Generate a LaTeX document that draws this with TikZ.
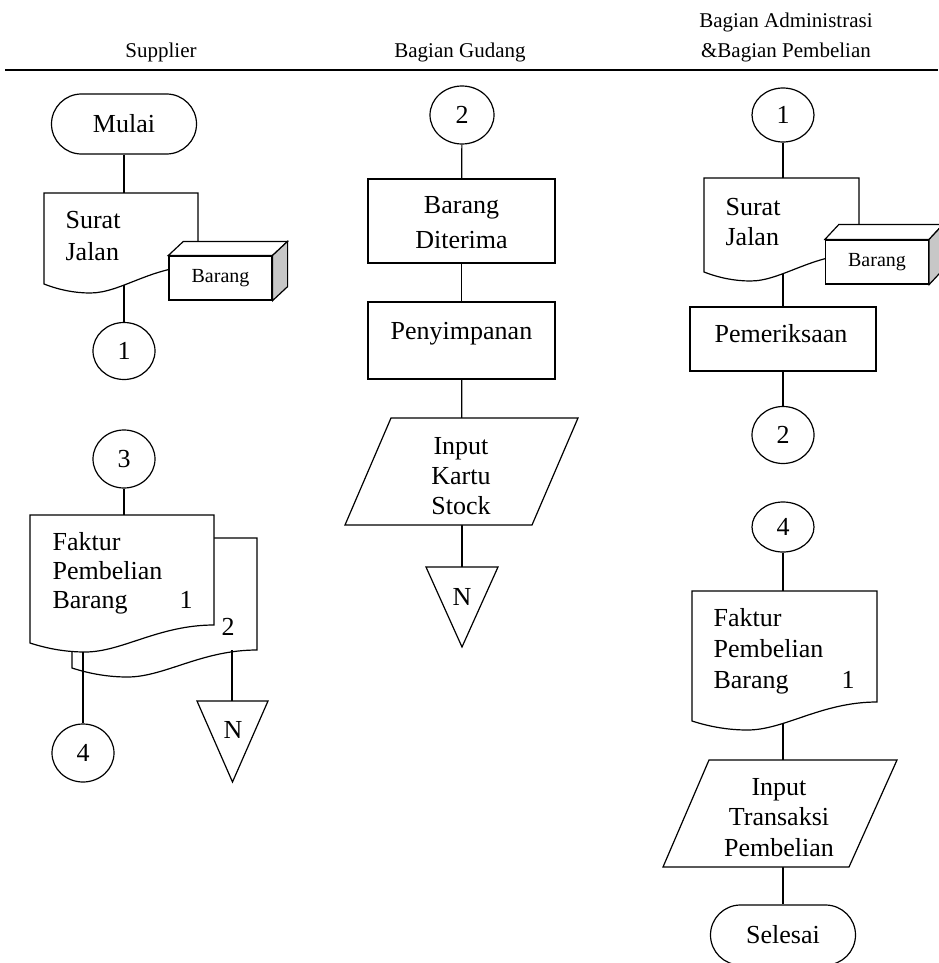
\documentclass[tikz,border=0pt]{standalone}
\usepackage{fontspec}
\setmainfont{Liberation Serif}
\usetikzlibrary{shapes.geometric}
\pgfdeclarelayer{lines}
\pgfsetlayers{lines,main}

% document symbol with a wavy lower edge: [options]{left}{top}{right}{bottom left}{bottom right}
\newcommand{\wavedoc}[6][]{%
  \path[draw, #1] (#2,#3) -- (#4,#3) -- (#4,#6)
    .. controls ({#2+0.7*(#4-#2)},#6) and ({#2+0.5*(#4-#2)},{#5+9}) .. ({#2+0.3*(#4-#2)},{#5+9})
    .. controls ({#2+0.2*(#4-#2)},{#5+9}) and ({#2+0.1*(#4-#2)},{#5+6}) .. (#2,#5) -- cycle;}

% top and side faces of a crate drawn on a front node: {node}{dx}{dy}
\newcommand{\cratefaces}[3]{%
  \path[draw, fill=white] (#1.north west) -- ++(#2,-#3) -- ([shift={(#2,-#3)}]#1.north east) -- (#1.north east) -- cycle;
  \path[draw, fill=black!22] (#1.north east) -- ++(#2,-#3) -- ([shift={(#2,-#3)}]#1.south east) -- (#1.south east) -- cycle;}

\begin{document}
\begin{tikzpicture}[x=1pt, y=-1pt, line width=1.2pt, line join=miter,
  fcbody/.style={font=\fontsize{26}{30}\selectfont, inner sep=0pt},
  fchead/.style={font=\fontsize{21}{25}\selectfont, inner sep=0pt, anchor=base},
  fcsmall/.style={font=\fontsize{20}{24}\selectfont},
  fcconn/.style={draw, fill=white, ellipse, inner sep=0pt, fcbody},
  fcterm/.style={draw, fill=white, rectangle, rounded corners=30pt, minimum width=145pt, minimum height=60pt, inner sep=0pt, fcbody},
  fcproc/.style={draw, fill=white, rectangle, inner sep=0pt},
  fccrate/.style={draw, fill=white, rectangle, inner sep=0pt, fcsmall, minimum width=103pt, minimum height=44pt},
  fcout/.style={draw, fill=white},
  fctext/.style={fcbody, anchor=base},
  fctextw/.style={fcbody, anchor=base west},
  fcline/.style={draw, line width=1.2pt},
]
\useasboundingbox (0,0) rectangle (938,963);

% ---------- lane headings ----------
\node[fchead] (hsup) at (161,58) {Supplier};
\node[fchead] (hgud) at (460,58) {Bagian Gudang};
\node[fchead] (hadm) at (786,28) {Bagian Administrasi};
\node[fchead] (hpem) at (786,58) {\&Bagian Pembelian};
\coordinate (hl) at (5,70);
\coordinate (hr) at (938,70);
\draw[line width=2pt] (hl) -- (hr);

% ---------- Supplier ----------
\node[fcterm] (mulai) at (124,124) {Mulai};
\wavedoc[fill=white]{44}{193}{198}{284}{266}
\coordinate (sj1) at (124,240);
\node[fctextw] at (65,228) {Surat};
\node[fctextw] at (65,260) {Jalan};
\node[fccrate] (bx1) at (220.5,278) {Barang};
\cratefaces{bx1}{15}{14}

\node[fcconn, minimum width=62pt, minimum height=57pt] (c1) at (124,351) {1};
\node[fcconn, minimum width=62pt, minimum height=58pt] (c3) at (124,459) {3};

% invoice with its second copy behind
\wavedoc{72}{538}{257}{668}{650}
\wavedoc[fill=white]{30}{515}{214}{643}{625}
\coordinate (fk1) at (124,580);
\coordinate (fk1o) at (83,600);
\coordinate (fk1b) at (232,650);
\node[fctextw] at (52,550) {Faktur};
\node[fctextw] at (52,579) {Pembelian};
\node[fctextw] at (52,608) {Barang};
\node[fctext] at (186,608) {1};
\node[fctext] at (228,635) {2};

\node[fcconn, minimum width=62pt, minimum height=58pt] (c4) at (83,753) {4};
\path[fcout] (197,701) -- (268,701) -- (232.5,782) -- cycle;
\coordinate (n1) at (232,701);
\node[fctext] at (233,738) {N};

% ---------- Bagian Gudang ----------
\node[fcconn, minimum width=64pt, minimum height=58pt] (c2m) at (462,115) {2};
\node[fcproc, minimum width=187pt, minimum height=84pt] (r1) at (461.5,221) {};
\node[fctext] at (461.5,213) {Barang};
\node[fctext] at (461.5,248) {Diterima};
\node[fcproc, minimum width=187pt, minimum height=77pt] (r2) at (461.5,340.5) {};
\node[fctext] at (461.5,339) {Penyimpanan};
\path[fcout] (391,418) -- (578,418) -- (532,525) -- (345,525) -- cycle;
\coordinate (kartu) at (462,471);
\node[fctext] at (461,454) {Input};
\node[fctext] at (461,484) {Kartu};
\node[fctext] at (461,514) {Stock};
\path[fcout] (426,567) -- (498,567) -- (462,647) -- cycle;
\coordinate (n2) at (462,567);
\node[fctext] at (462,605) {N};

% ---------- Bagian Administrasi & Pembelian ----------
\node[fcconn, minimum width=62pt, minimum height=54pt] (c1r) at (783,115) {1};
\wavedoc[fill=white]{704}{178}{859}{272}{254}
\coordinate (sj2) at (783,225);
\node[fctextw] at (725,215) {Surat};
\node[fctextw] at (725,245) {Jalan};
\node[fccrate] (bx2) at (877,262) {Barang};
\cratefaces{bx2}{14}{15}
\node[fcproc, minimum width=186pt, minimum height=64pt] (r3) at (783,339) {};
\node[fctext] at (781,342) {Pemeriksaan};
\node[fcconn, minimum width=62pt, minimum height=57pt] (c2r) at (783,435) {2};

\node[fcconn, minimum width=62pt, minimum height=50pt] (c4r) at (783,527) {4};
\wavedoc[fill=white]{692}{591}{877}{721}{702}
\coordinate (fk2) at (783,650);
\node[fctextw] at (713,626) {Faktur};
\node[fctextw] at (713,657) {Pembelian};
\node[fctextw] at (713,688) {Barang};
\node[fctext] at (848,688) {1};
\path[fcout] (709,760) -- (897,760) -- (849,867) -- (663,867) -- cycle;
\coordinate (ptr) at (783,813);
\node[fctext] at (779,795) {Input};
\node[fctext] at (779,825) {Transaksi};
\node[fctext] at (779,856) {Pembelian};
\node[fcterm] (selesai) at (783,935) {Selesai};

% ---------- flow lines (under the symbols) ----------
\begin{pgfonlayer}{lines}
  \draw[fcline] (mulai) -- (sj1);
  \draw[fcline] (sj1) -- (c1);
  \draw[fcline] (c3) -- (fk1);
  \draw[fcline] (fk1o) -- (c4);
  \draw[fcline] (fk1b) -- (n1);
  \draw[fcline] (c2m) -- (r1);
  \draw[fcline] (r1) -- (r2);
  \draw[fcline] (r2) -- (kartu);
  \draw[fcline] (kartu) -- (n2);
  \draw[fcline] (c1r) -- (sj2);
  \draw[fcline] (sj2) -- (r3);
  \draw[fcline] (r3) -- (c2r);
  \draw[fcline] (c4r) -- (fk2);
  \draw[fcline] (fk2) -- (ptr);
  \draw[fcline] (ptr) -- (selesai);
\end{pgfonlayer}
\end{tikzpicture}
\end{document}
